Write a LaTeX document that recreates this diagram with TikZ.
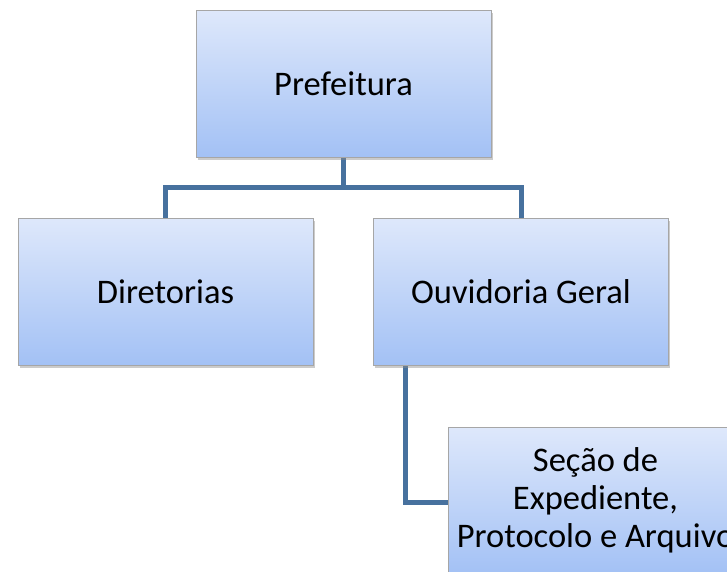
\documentclass[tikz,border=0pt]{standalone}
\usepackage{fontspec}
\setmainfont{Carlito}
\usetikzlibrary{positioning,shadows}

\definecolor{boxtop}{RGB}{222,232,251}
\definecolor{boxbottom}{RGB}{163,193,245}
\definecolor{linkblue}{RGB}{71,113,158}

\tikzset{
  orgbox/.style={draw=black!35, line width=0.8pt, top color=boxtop, bottom color=boxbottom,
    minimum width=295pt, minimum height=147pt, align=center, inner sep=0pt,
    font=\fontsize{34.5}{38}\selectfont,
    drop shadow={shadow xshift=1.5pt, shadow yshift=-3pt, fill=black!45, opacity=0.45}},
  link/.style={draw=linkblue, line width=5pt}
}

\begin{document}
\begin{tikzpicture}[x=1pt,y=-1pt]
	\useasboundingbox (0,0) rectangle (727,571);

	% connectors first, boxes on top
	\coordinate (pref-c) at (343.5,83.5);
	\coordinate (dir-c) at (165.5,291.5);
	\coordinate (ouv-c) at (521,291.5);
	\coordinate (sec-c) at (595.5,500.5);
	\coordinate (bus) at (343.5,187);
	\coordinate (ouv-stem) at (405,365);
	\coordinate (sec-in) at (448,502);

	\draw [link] (pref-c) -- (bus) -| (dir-c);
	\draw [link] (bus) -| (ouv-c);
	\draw [link] (ouv-stem) |- (sec-in);

	\node [orgbox] (pref) at (pref-c) {Prefeitura};
	\node [orgbox] (dir) at (dir-c) {Diretorias};
	\node [orgbox] (ouv) at (ouv-c) {Ouvidoria Geral};
	\node [orgbox] (sec) at (sec-c) {Seção de\\Expediente,\\Protocolo e Arquivo};
\end{tikzpicture}
\end{document}
